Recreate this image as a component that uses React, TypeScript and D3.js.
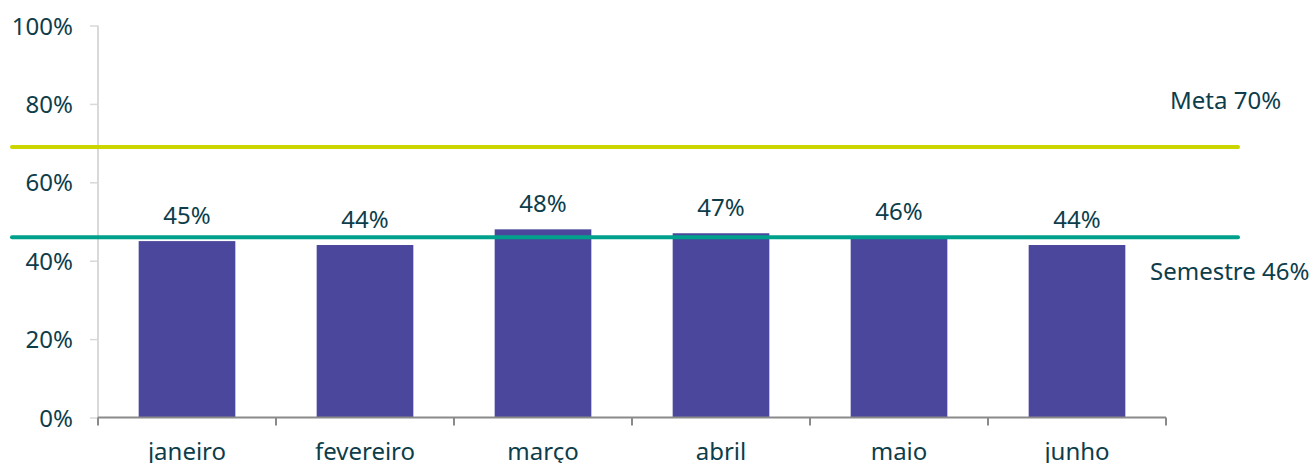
import React, { useEffect, useRef } from 'react';
import * as d3 from 'd3';

const months = ['janeiro', 'fevereiro', 'março', 'abril', 'maio', 'junho'];
const values = [0.45, 0.44, 0.48, 0.47, 0.46, 0.44];
const yTicks = [0, 0.2, 0.4, 0.6, 0.8, 1];
const refNames = ['Meta 70%', 'Semestre 46%'];
const refValues = [0.69, 0.46];
const refColors = ['#cbd500', '#00a18c'];

const textColor = '#0d3d4a';
const font = "'Noto Sans', 'Open Sans', sans-serif";

export default function App() {
    const ref = useRef<SVGSVGElement>(null);

    useEffect(() => {
        const svg = d3.select(ref.current);
        svg.selectAll('*').remove();

        const x = d3.scaleBand<string>().domain(months).range([98, 1166]).padding(0);
        const y = d3.scaleLinear().domain([0, 1]).range([417.5, 25.5]);
        const barW = x.bandwidth() * 0.543;

        // y axis: light line + small ticks
        const yAxis = svg.append('g')
            .attr('transform', 'translate(98,0)')
            .call(d3.axisLeft(y).tickValues(yTicks).tickSize(8).tickFormat(d3.format('.0%')));
        yAxis.select('.domain').attr('stroke', '#d9d9d9').attr('stroke-width', 2)
            .attr('d', `M0,${y(1)}V${y(0)}`);
        yAxis.selectAll('.tick line').attr('stroke', '#d9d9d9').attr('stroke-width', 1.5);
        yAxis.selectAll('.tick text')
            .attr('x', -25)
            .attr('dy', '0.36em')
            .attr('fill', textColor)
            .attr('font-size', 24)
            .attr('font-family', font);

        // bars
        svg.selectAll('.bar')
            .data(values)
            .enter().append('rect')
            .attr('class', 'bar')
            .attr('x', (d, i) => x(months[i])! + (x.bandwidth() - barW) / 2)
            .attr('y', d => y(d))
            .attr('width', barW)
            .attr('height', d => y(0) - y(d))
            .attr('fill', '#4a479c');

        // x axis with ticks at category boundaries
        const xg = svg.append('g');
        xg.append('line')
            .attr('x1', 98).attr('x2', 1166)
            .attr('y1', y(0)).attr('y2', y(0))
            .attr('stroke', '#8a8a8a').attr('stroke-width', 2);
        const bounds = months.map(m => x(m)!).concat([1166]);
        xg.selectAll('.xt')
            .data(bounds)
            .enter().append('line')
            .attr('x1', d => d).attr('x2', d => d)
            .attr('y1', y(0)).attr('y2', y(0) + 8)
            .attr('stroke', '#8a8a8a').attr('stroke-width', 2);
        xg.selectAll('.xl')
            .data(months)
            .enter().append('text')
            .attr('x', d => x(d)! + x.bandwidth() / 2)
            .attr('y', 460)
            .attr('text-anchor', 'middle')
            .attr('fill', textColor)
            .attr('font-size', 24)
            .attr('font-family', font)
            .text(d => d);

        // value labels
        svg.selectAll('.val')
            .data(values)
            .enter().append('text')
            .attr('x', (d, i) => x(months[i])! + x.bandwidth() / 2)
            .attr('y', d => y(d) - 17)
            .attr('text-anchor', 'middle')
            .attr('fill', textColor)
            .attr('font-size', 24)
            .attr('font-family', font)
            .text(d => Math.round(d * 100) + '%');

        // reference lines
        svg.selectAll('.refline')
            .data(refValues)
            .enter().append('line')
            .attr('x1', 12).attr('x2', 1238)
            .attr('y1', d => y(d)).attr('y2', d => y(d))
            .attr('stroke', (d, i) => refColors[i])
            .attr('stroke-width', 4)
            .attr('stroke-linecap', 'round');

        const labelPos = [[1170, 109], [1150, 280]];
        svg.selectAll('.reflabel')
            .data(refNames)
            .enter().append('text')
            .attr('x', (d, i) => labelPos[i][0])
            .attr('y', (d, i) => labelPos[i][1])
            .attr('fill', textColor)
            .attr('font-size', 24)
            .attr('font-family', font)
            .text(d => d);
    }, []);

    return (
        <svg ref={ref} width={1315} height={463}
            style={{ position: 'absolute', left: 0, top: 0, background: '#fff' }} />
    );
}
